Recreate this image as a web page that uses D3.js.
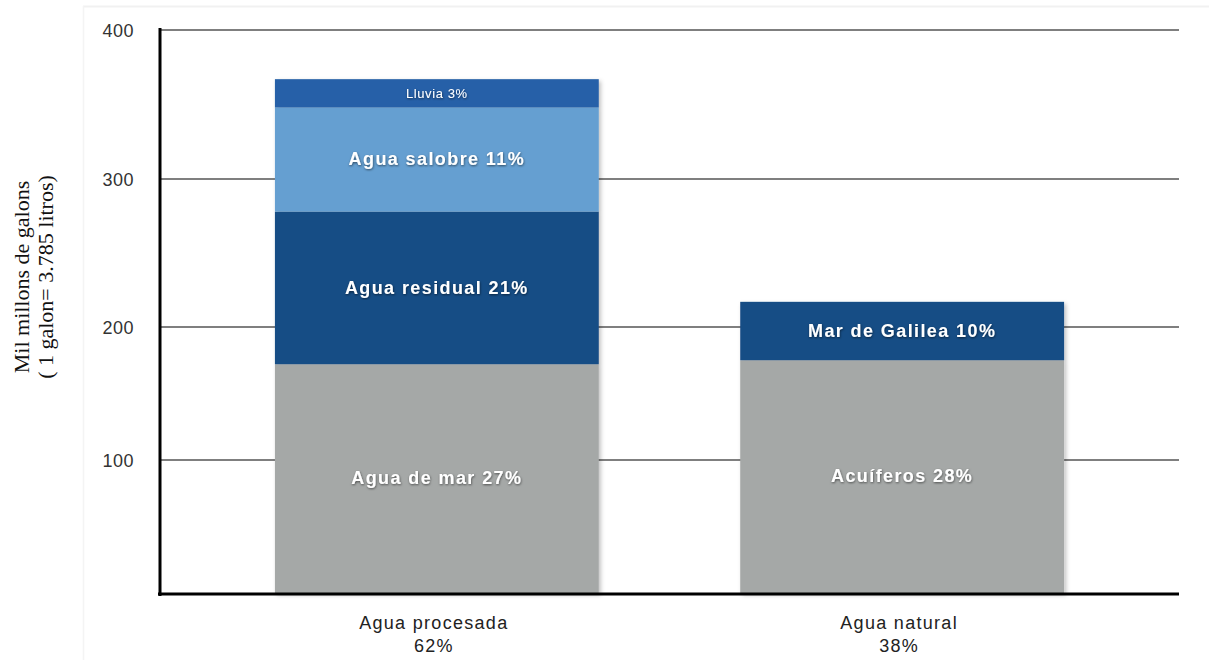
<!DOCTYPE html>
<html>
<head>
<meta charset="utf-8">
<script src="https://cdn.jsdelivr.net/npm/d3@7"></script>
<style>
  body { margin: 0; background: #fff; }
  svg { display: block; }
</style>
</head>
<body>
<div id="container"></div>
<script>
/* DATA */
const categories = ["Agua procesada", "Agua natural"];
const categoryShares = ["62%", "38%"];
// segments, bottom to top
const segNames = ["Agua de mar 27%", "Agua residual 21%", "Agua salobre 11%", "Lluvia 3%"];
const segValues = [172, 106, 70, 19];
const segColors = ["#a5a8a7", "#174d85", "#659fd1", "#2561a8"];
const natNames = ["Acuíferos 28%", "Mar de Galilea 10%"];
const natValues = [175, 42];
const natColors = ["#a5a8a7", "#174d85"];
const yTicks = [100, 200, 300, 400];

/* CONSTANTS */
const width = 1209, height = 660;

const svg = d3.select("#container")
  .append("svg")
  .attr("width", width)
  .attr("height", height);

const defs = svg.append("defs");
defs.append("filter").attr("id", "shadow")
  .attr("x", "-5%").attr("y", "-5%").attr("width", "115%").attr("height", "115%")
  .append("feDropShadow")
  .attr("dx", 2).attr("dy", 2).attr("stdDeviation", 2)
  .attr("flood-color", "#000").attr("flood-opacity", 0.25);
defs.append("filter").attr("id", "tshadow")
  .append("feDropShadow")
  .attr("dx", 0.5).attr("dy", 1).attr("stdDeviation", 0.8)
  .attr("flood-color", "#000").attr("flood-opacity", 0.55);

// faint frame
svg.append("line").attr("x1", 83).attr("x2", width).attr("y1", 6.5).attr("y2", 6.5)
  .attr("stroke", "#f1f1f1").attr("stroke-width", 2);
svg.append("line").attr("x1", 83.5).attr("x2", 83.5).attr("y1", 6).attr("y2", height)
  .attr("stroke", "#f4f4f4").attr("stroke-width", 1.5);

/* SCALES */
// the picture's axis is not evenly spaced, so map each tick separately
const yScale = d3.scaleLinear()
  .domain([0, 100, 200, 300, 400])
  .range([593, 460, 327, 179, 30]);

const xScale = d3.scaleBand()
  .domain(categories)
  .range([160, 1179])
  .paddingInner(0.304)
  .paddingOuter(0.247);

// gridlines
svg.append("g")
  .selectAll("line")
  .data(yTicks)
  .join("line")
  .attr("x1", 160)
  .attr("x2", 1179)
  .attr("y1", d => yScale(d))
  .attr("y2", d => yScale(d))
  .attr("stroke", "#555")
  .attr("stroke-width", 1.5);

// tick labels
svg.append("g")
  .selectAll("text")
  .data(yTicks)
  .join("text")
  .attr("x", 134)
  .attr("y", d => yScale(d) + 2)
  .attr("text-anchor", "end")
  .attr("dominant-baseline", "middle")
  .attr("font-family", "Liberation Sans, Arial, sans-serif")
  .attr("font-size", 18)
  .attr("letter-spacing", 0.5)
  .attr("fill", "#333")
  .text(d => d);

// build stacks
function stackUp(names, values, colors) {
  let y0 = 0;
  return values.map((v, i) => {
    const s = { name: names[i], y0: y0, y1: y0 + v, color: colors[i] };
    y0 += v;
    return s;
  });
}
const stacks = [
  stackUp(segNames, segValues, segColors),
  stackUp(natNames, natValues, natColors)
];

const barG = svg.selectAll("g.bar")
  .data(stacks)
  .join("g")
  .attr("class", "bar")
  .attr("transform", (d, i) => `translate(${xScale(categories[i])},0)`);

barG.append("g")
  .attr("filter", "url(#shadow)")
  .selectAll("rect")
  .data(d => d)
  .join("rect")
  .attr("x", 0)
  .attr("width", xScale.bandwidth())
  .attr("y", d => yScale(d.y1))
  .attr("height", d => yScale(d.y0) - yScale(d.y1))
  .attr("fill", d => d.color);

const small = d => d.name.startsWith("Lluvia");
barG.append("g")
  .selectAll("text")
  .data(d => d)
  .join("text")
  .attr("x", xScale.bandwidth() / 2)
  .attr("y", d => (yScale(d.y0) + yScale(d.y1)) / 2 + 1)
  .attr("text-anchor", "middle")
  .attr("dominant-baseline", "middle")
  .attr("font-family", "Liberation Sans, Arial, sans-serif")
  .attr("font-weight", d => small(d) ? "normal" : "bold")
  .attr("font-size", d => small(d) ? 13 : 18)
  .attr("letter-spacing", d => small(d) ? 0.6 : 1.4)
  .attr("fill", "#fff")
  .attr("filter", "url(#tshadow)")
  .text(d => d.name);

// axis lines
svg.append("line").attr("x1", 160).attr("x2", 160).attr("y1", 28).attr("y2", 596)
  .attr("stroke", "#000").attr("stroke-width", 3);
svg.append("line").attr("x1", 158).attr("x2", 1179).attr("y1", 594).attr("y2", 594)
  .attr("stroke", "#000").attr("stroke-width", 3);

// category labels
const catX = d => xScale(d) + xScale.bandwidth() / 2 - 3;
const catLab = svg.append("g")
  .selectAll("text")
  .data(categories)
  .join("text")
  .attr("x", catX)
  .attr("y", 629)
  .attr("text-anchor", "middle")
  .attr("font-family", "Liberation Sans, Arial, sans-serif")
  .attr("font-size", 18)
  .attr("letter-spacing", 1.3)
  .attr("fill", "#222");
catLab.append("tspan").text(d => d);
catLab.append("tspan")
  .attr("x", catX)
  .attr("dy", 23)
  .text((d, i) => categoryShares[i]);

// y-axis title
const yTitle = svg.append("text")
  .attr("transform", "translate(22,277) rotate(-90)")
  .attr("text-anchor", "middle")
  .attr("font-family", "Liberation Serif, Times New Roman, serif")
  .attr("font-size", 22)
  .attr("fill", "#111");
yTitle.append("tspan").attr("x", 0).attr("dy", 7).text("Mil millons de galons");
yTitle.append("tspan").attr("x", 0).attr("dy", 24).text("( 1 galon= 3.785 litros)");
</script>
</body>
</html>
